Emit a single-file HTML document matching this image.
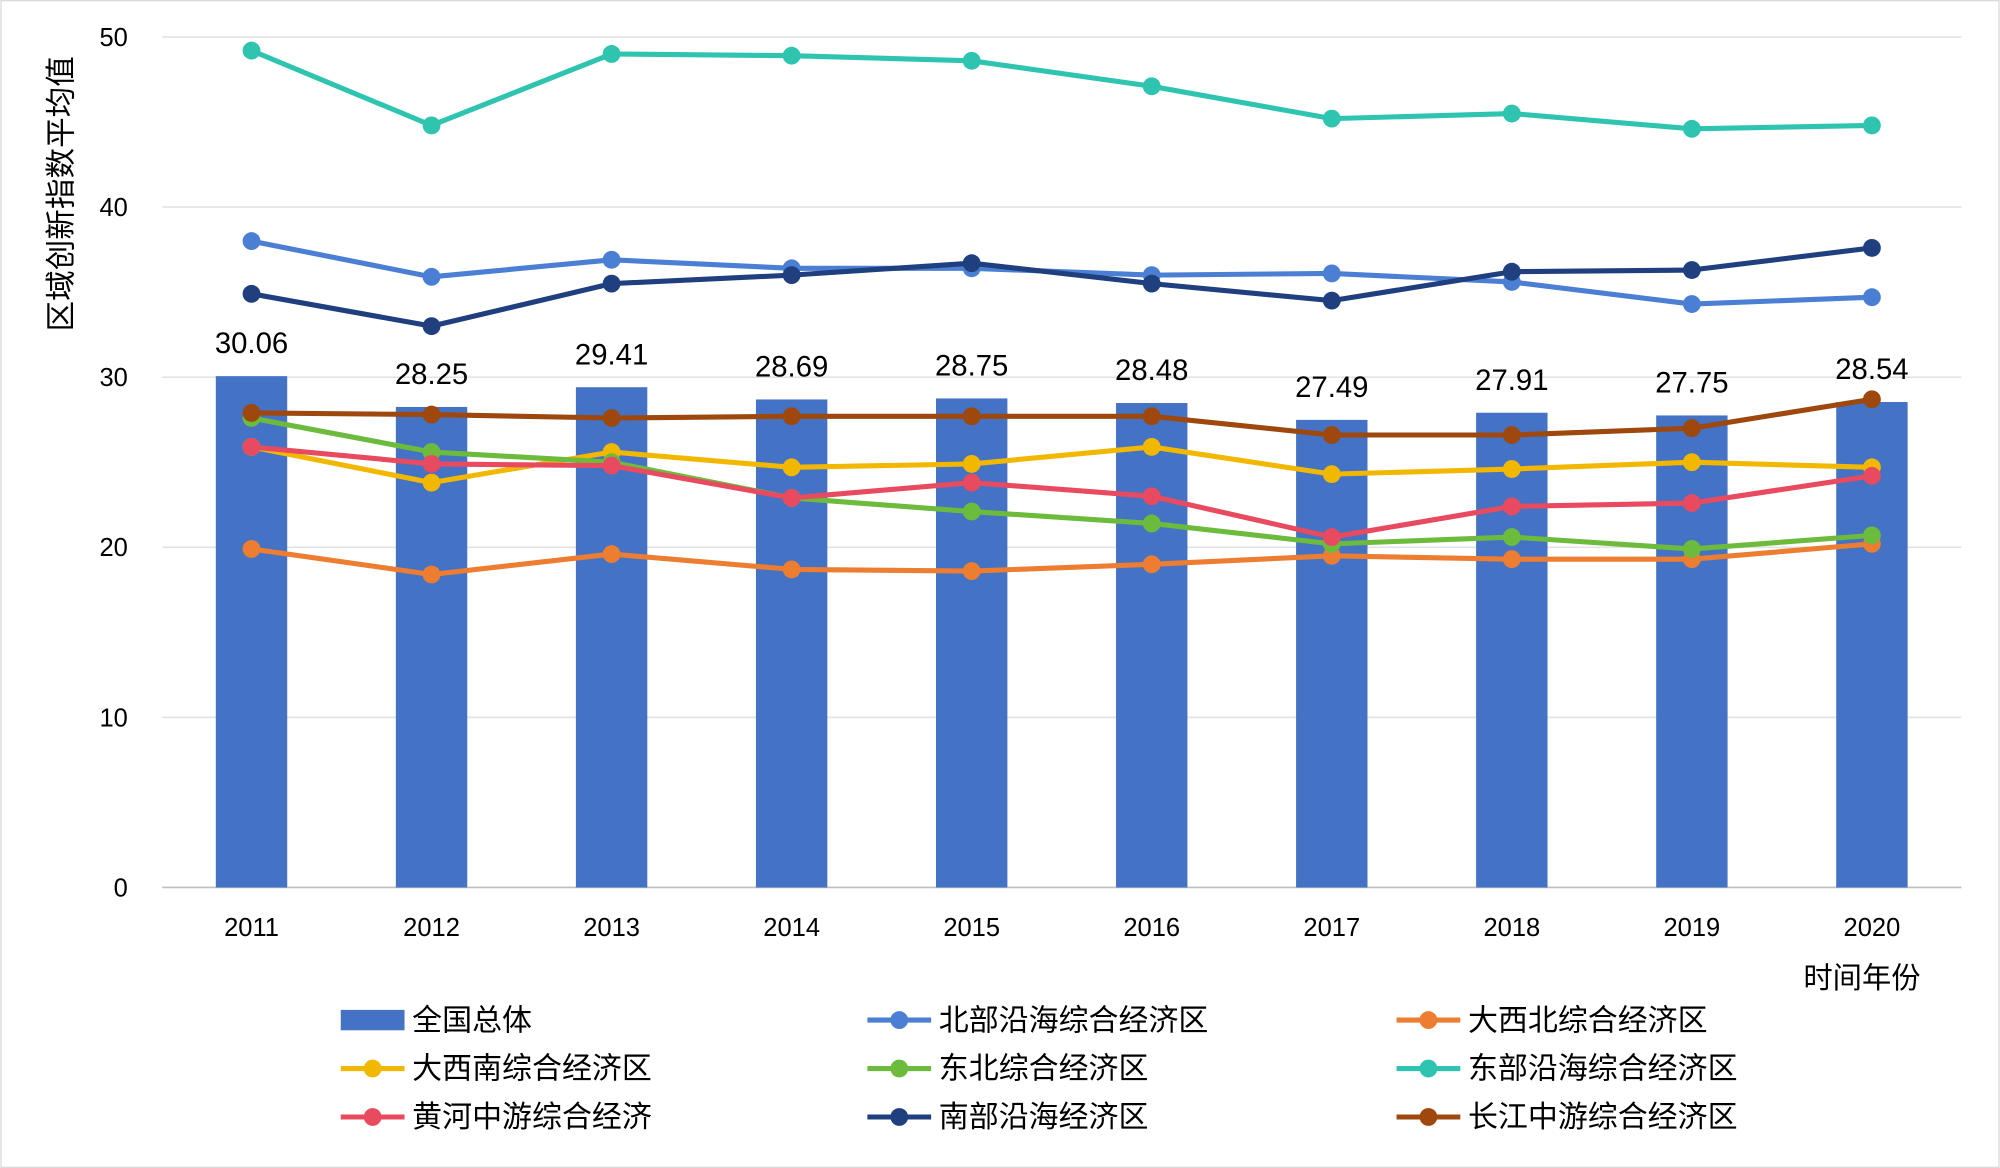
<!DOCTYPE html>
<html><head><meta charset="utf-8"><style>
html,body{margin:0;padding:0;background:#fff}
svg{display:block}
text{font-family:"Liberation Sans","Noto Sans CJK SC",sans-serif;fill:#000}
</style></head><body>
<svg width="2000" height="1168" viewBox="0 0 1568 916" xmlns="http://www.w3.org/2000/svg">
<rect x="0.5" y="0.5" width="1567" height="915" fill="#fff" stroke="#d9d9d9"/>
<g id="grid"></g><g id="bars"></g><g id="lines"></g><g id="labels"></g><g id="legend"></g>
<text transform="translate(56,152) rotate(-90)" text-anchor="middle" font-size="24">区域创新指数平均值</text>
<text x="1460" y="775" text-anchor="middle" font-size="23">时间年份</text>
</svg>
<script>
const years=['2011','2012','2013','2014','2015','2016','2017','2018','2019','2020'];
const yTicks=[0,10,20,30,40,50];
const national=[30.06,28.25,29.41,28.69,28.75,28.48,27.49,27.91,27.75,28.54];
const northCoast=[38.0,35.9,36.9,36.4,36.4,36.0,36.1,35.6,34.3,34.7];
const bigNorthwest=[19.9,18.4,19.6,18.7,18.6,19.0,19.5,19.3,19.3,20.2];
const bigSouthwest=[25.9,23.8,25.6,24.7,24.9,25.9,24.3,24.6,25.0,24.7];
const northeast=[27.6,25.6,25.0,22.9,22.1,21.4,20.2,20.6,19.9,20.7];
const eastCoast=[49.2,44.8,49.0,48.9,48.6,47.1,45.2,45.5,44.6,44.8];
const yellowRiver=[25.9,24.9,24.8,22.9,23.8,23.0,20.6,22.4,22.6,24.2];
const southCoast=[34.9,33.0,35.5,36.0,36.7,35.5,34.5,36.2,36.3,37.6];
const yangtze=[27.9,27.8,27.6,27.7,27.7,27.7,26.6,26.6,27.0,28.7];
const seriesNames=['北部沿海综合经济区','大西北综合经济区','大西南综合经济区','东北综合经济区','东部沿海综合经济区','黄河中游综合经济','南部沿海经济区','长江中游综合经济区'];
const seriesData=[northCoast,bigNorthwest,bigSouthwest,northeast,eastCoast,yellowRiver,southCoast,yangtze];
const colors=['#4a7fd4','#ed7d31','#f2b800','#6cbb3c','#2ec4b0','#e84a5f','#203f7e','#9e480e'];
const NS='http://www.w3.org/2000/svg';
const X=i=>197+i*141.2, Y=v=>696-v*13.34;
function mk(tag,attrs,parent,txt){const e=document.createElementNS(NS,tag);for(const k in attrs)e.setAttribute(k,attrs[k]);if(txt!==undefined)e.textContent=txt;document.getElementById(parent).appendChild(e);return e;}
yTicks.forEach(t=>{
 const l=mk('line',{x1:127,x2:1538,y1:Y(t),y2:Y(t),stroke:t===0?'#bfbfbf':'#e3e3e3','stroke-width':1.3},'grid');
 
 
 const tx=mk('text',{x:100,y:Y(t)+7,'text-anchor':'end','font-size':20},'grid',String(t));
 
 
});
years.forEach((y,i)=>{
 const tx=mk('text',{x:X(i),y:734,'text-anchor':'middle','font-size':20},'grid',y);
 
 
});
national.forEach((v,i)=>{
 const r=mk('rect',{x:X(i)-28,y:Y(v),width:56,height:Y(0)-Y(v),fill:'#4472c4'},'bars');
 
 
 const tx=mk('text',{x:X(i),y:Y(v)-18,'text-anchor':'middle','font-size':23},'labels',v.toFixed(2));
 
 
});
seriesData.forEach((d,s)=>{
 const p=mk('polyline',{points:d.map((v,i)=>X(i)+','+Y(v)).join(' '),fill:'none',stroke:colors[s],'stroke-width':4,'stroke-linejoin':'round'},'lines');
 
 
 d.forEach((v,i)=>{
  const c=mk('circle',{cx:X(i),cy:Y(v),r:7,fill:colors[s]},'lines');
  
  
 });
});
const legItems=[{n:'全国总体',bar:true}].concat(seriesNames.map((n,i)=>({n,c:colors[i]})));
const colX=[267,680,1095], rowY=[800,838,876];
legItems.forEach((it,k)=>{
 const x=colX[k%3], y=rowY[Math.floor(k/3)];
 if(it.bar){
  const r=mk('rect',{x:x,y:y-8,width:50,height:16,fill:'#4472c4'},'legend');
  
  
 } else {
  const l=mk('line',{x1:x,x2:x+50,y1:y,y2:y,stroke:it.c,'stroke-width':4},'legend');
  
  
  const c=mk('circle',{cx:x+25,cy:y,r:7,fill:it.c},'legend');
  
  
 }
 const tx=mk('text',{x:x+56,y:y+8,'font-size':23.5},'legend',it.n);
 
 
});
</script>
</body></html>
